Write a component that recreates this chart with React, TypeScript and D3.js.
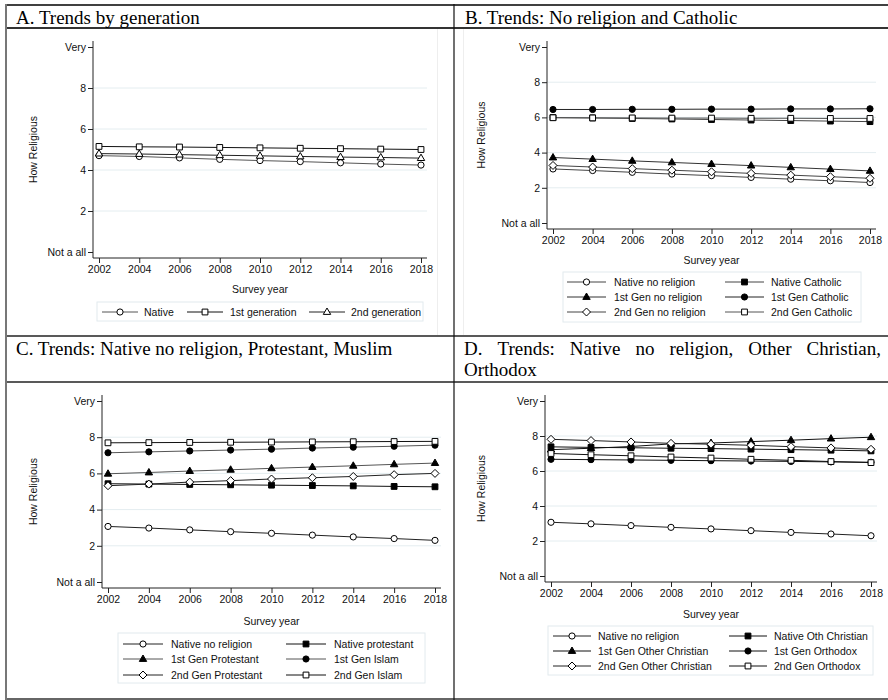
import * as d3 from "d3";
import { useRef, useEffect } from "react";

// survey years and y tick labels
const years = [2002, 2004, 2006, 2008, 2010, 2012, 2014, 2016, 2018];
const yTicks = [0, 2, 4, 6, 8, 10];
const yTickLabels = ["Not a all", "2", "4", "6", "8", "Very"];

// A. by generation
const aNative = [4.70, 4.66, 4.59, 4.52, 4.46, 4.41, 4.35, 4.29, 4.24];
const aFirst = [5.15, 5.13, 5.12, 5.10, 5.08, 5.06, 5.04, 5.02, 5.00];
const aSecond = [4.80, 4.78, 4.75, 4.72, 4.69, 4.66, 4.63, 4.61, 4.58];

// native no religion, same in B, C, D
const nativeNoRel = [3.07, 2.98, 2.88, 2.78, 2.69, 2.59, 2.49, 2.40, 2.30];

// B. no religion and catholic
const bNativeCath = [5.99, 5.97, 5.94, 5.91, 5.88, 5.85, 5.82, 5.79, 5.76];
const bFirstNoRel = [3.72, 3.63, 3.53, 3.44, 3.35, 3.26, 3.16, 3.06, 2.96];
const bFirstCath = [6.45, 6.45, 6.46, 6.46, 6.47, 6.47, 6.48, 6.48, 6.49];
const bSecondNoRel = [3.27, 3.18, 3.09, 3.00, 2.91, 2.82, 2.72, 2.63, 2.54];
const bSecondCath = [5.98, 5.97, 5.97, 5.96, 5.96, 5.95, 5.95, 5.94, 5.94];

// C. protestant, muslim
const cNativeProt = [5.43, 5.41, 5.39, 5.37, 5.35, 5.33, 5.31, 5.28, 5.26];
const cFirstProt = [5.98, 6.05, 6.13, 6.20, 6.28, 6.35, 6.42, 6.50, 6.57];
const cFirstIslam = [7.14, 7.19, 7.24, 7.29, 7.34, 7.40, 7.45, 7.50, 7.56];
const cSecondProt = [5.32, 5.41, 5.52, 5.60, 5.69, 5.76, 5.83, 5.93, 6.00];
const cSecondIslam = [7.69, 7.70, 7.71, 7.72, 7.73, 7.74, 7.75, 7.76, 7.77];

// D. other christian, orthodox
const dNativeOth = [7.38, 7.35, 7.33, 7.30, 7.28, 7.25, 7.22, 7.19, 7.15];
const dFirstOth = [7.22, 7.30, 7.40, 7.55, 7.60, 7.68, 7.76, 7.85, 7.93];
const dFirstOrth = [6.67, 6.65, 6.63, 6.61, 6.59, 6.57, 6.55, 6.52, 6.50];
const dSecondOth = [7.81, 7.74, 7.66, 7.58, 7.53, 7.47, 7.39, 7.32, 7.24];
const dSecondOrth = [7.00, 6.93, 6.87, 6.80, 6.74, 6.67, 6.61, 6.54, 6.48];

const SANS = "'Liberation Sans', Arial, sans-serif";
const SERIF = "'Liberation Serif', 'Times New Roman', serif";

const panels = [
    {
        x0: 99, x1: 421, y0: 252, y1: 47, ylabX: 33,
        tickY: 275, xlabY: 293,
        legend: { x: 97, y: 302, w: 326, h: 19, cols: [102, 187, 309], rows: [312], text: [144, 230, 351], lineW: 36 },
        series: [
            { name: "Native", values: aNative, shape: "circle", fill: false, color: "#555" },
            { name: "1st generation", values: aFirst, shape: "square", fill: false, color: "#111" },
            { name: "2nd generation", values: aSecond, shape: "triangle", fill: false, color: "#222" },
        ],
    },
    {
        x0: 553, x1: 870, y0: 223, y1: 47, ylabX: 481,
        tickY: 245, xlabY: 264,
        legend: { x: 563, y: 272, w: 298, h: 50, cols: [567, 725], rows: [282, 297, 312], text: [614, 771], lineW: 39 },
        series: [
            { name: "Native no religion", values: nativeNoRel, shape: "circle", fill: false, color: "#444" },
            { name: "Native Catholic", values: bNativeCath, shape: "square", fill: true, color: "#444" },
            { name: "1st Gen no religion", values: bFirstNoRel, shape: "triangle", fill: true, color: "#333" },
            { name: "1st Gen Catholic", values: bFirstCath, shape: "circle", fill: true, color: "#222" },
            { name: "2nd Gen no religion", values: bSecondNoRel, shape: "diamond", fill: false, color: "#444" },
            { name: "2nd Gen Catholic", values: bSecondCath, shape: "square", fill: false, color: "#555" },
        ],
    },
    {
        x0: 108, x1: 435, y0: 582, y1: 401, ylabX: 33,
        tickY: 606, xlabY: 625,
        legend: { x: 118, y: 633, w: 307, h: 50, cols: [123, 286], rows: [644, 659, 675], text: [171, 334], lineW: 40 },
        series: [
            { name: "Native no religion", values: nativeNoRel, shape: "circle", fill: false, color: "#222" },
            { name: "Native protestant", values: cNativeProt, shape: "square", fill: true, color: "#111" },
            { name: "1st Gen Protestant", values: cFirstProt, shape: "triangle", fill: true, color: "#555" },
            { name: "1st Gen Islam", values: cFirstIslam, shape: "circle", fill: true, color: "#555" },
            { name: "2nd Gen Protestant", values: cSecondProt, shape: "diamond", fill: false, color: "#222" },
            { name: "2nd Gen Islam", values: cSecondIslam, shape: "square", fill: false, color: "#111" },
        ],
    },
    {
        x0: 551, x1: 871, y0: 576, y1: 401, ylabX: 481,
        tickY: 599, xlabY: 618,
        legend: { x: 548, y: 626, w: 325, h: 49, cols: [553, 729], rows: [636, 651, 666], text: [598, 774], lineW: 38 },
        series: [
            { name: "Native no religion", values: nativeNoRel, shape: "circle", fill: false, color: "#222" },
            { name: "Native Oth Christian", values: dNativeOth, shape: "square", fill: true, color: "#111" },
            { name: "1st Gen Other Christian", values: dFirstOth, shape: "triangle", fill: true, color: "#111" },
            { name: "1st Gen Orthodox", values: dFirstOrth, shape: "circle", fill: true, color: "#111" },
            { name: "2nd Gen Other Christian", values: dSecondOth, shape: "diamond", fill: false, color: "#222" },
            { name: "2nd Gen Orthodox", values: dSecondOrth, shape: "square", fill: false, color: "#111" },
        ],
    },
];

// marker paths centred on 0,0
const markerPath = (shape) => {
    if (shape === "circle") return d3.symbol(d3.symbolCircle, Math.PI * 3.1 * 3.1)();
    if (shape === "square") return "M-2.9,-2.9H2.9V2.9H-2.9Z";
    if (shape === "triangle") return "M0,-4L3.7,2.4H-3.7Z";
    return "M0,-4L4,0L0,4L-4,0Z";
};

const drawMarker = (g, s, cx, cy) => {
    g.append("path")
        .attr("d", markerPath(s.shape))
        .attr("transform", `translate(${cx},${cy})`)
        .attr("fill", s.fill ? "#000" : "#fff")
        .attr("stroke", "#000")
        .attr("stroke-width", 1);
};

const drawPanel = (svg, p) => {
    const x = d3.scaleLinear().domain([2002, 2018]).range([p.x0, p.x1]);
    const y = d3.scaleLinear().domain([0, 10]).range([p.y0, p.y1]);
    const left = p.x0 - 6, right = p.x1 + 6, top = p.y1 - 6, bottom = p.y0 + 6;
    const g = svg.append("g");

    // grid lines
    g.selectAll(".grid")
        .data([2, 4, 6, 8])
        .join("line")
        .attr("x1", left).attr("x2", right)
        .attr("y1", d => y(d)).attr("y2", d => y(d))
        .attr("stroke", "#e4edf0");

    // axes
    const ya = g.append("g")
        .attr("transform", `translate(${left},0)`)
        .call(d3.axisLeft(y).tickValues(yTicks).tickFormat((d, i) => yTickLabels[i]).tickSize(5).tickSizeOuter(0).tickPadding(2));
    const xa = g.append("g")
        .attr("transform", `translate(0,${bottom})`)
        .call(d3.axisBottom(x).tickValues(years).tickFormat(d3.format("d")).tickSize(5).tickSizeOuter(0).tickPadding(3));
    [ya, xa].forEach(a => {
        a.select(".domain").remove();
        a.attr("font-family", SANS).attr("font-size", 10.5);
        a.selectAll("line").attr("stroke", "#222");
        a.selectAll("text").attr("fill", "#111");
    });
    g.append("line").attr("x1", left).attr("x2", left).attr("y1", top).attr("y2", bottom).attr("stroke", "#222");
    g.append("line").attr("x1", left).attr("x2", right).attr("y1", bottom).attr("y2", bottom).attr("stroke", "#222");

    // axis titles
    g.append("text")
        .attr("transform", `translate(${p.ylabX},${(top + bottom) / 2}) rotate(-90)`)
        .attr("text-anchor", "middle").attr("dy", "0.35em")
        .attr("font-family", SANS).attr("font-size", 10.5).attr("fill", "#111")
        .text("How Religious");
    g.append("text")
        .attr("x", (p.x0 + p.x1) / 2).attr("y", p.xlabY)
        .attr("text-anchor", "middle")
        .attr("font-family", SANS).attr("font-size", 10.5).attr("fill", "#111")
        .text("Survey year");

    // series
    const line = d3.line().x((d, i) => x(years[i])).y(d => y(d));
    p.series.forEach(s => {
        g.append("path").attr("d", line(s.values)).attr("fill", "none").attr("stroke", s.color).attr("stroke-width", 1);
    });
    p.series.forEach(s => {
        s.values.forEach((v, i) => drawMarker(g, s, x(years[i]), y(v)));
    });

    // legend
    const L = p.legend;
    g.append("rect").attr("x", L.x).attr("y", L.y).attr("width", L.w).attr("height", L.h)
        .attr("fill", "#fff").attr("stroke", "#e2eaee");
    const nc = L.cols.length;
    p.series.forEach((s, i) => {
        const c = i % nc, r = Math.floor(i / nc);
        const lx = L.cols[c], ly = L.rows[r];
        g.append("line").attr("x1", lx).attr("x2", lx + L.lineW).attr("y1", ly).attr("y2", ly)
            .attr("stroke", s.color).attr("stroke-width", 1);
        drawMarker(g, s, lx + L.lineW / 2, ly);
        g.append("text").attr("x", L.text[c]).attr("y", ly).attr("dy", "0.35em")
            .attr("font-family", SANS).attr("font-size", 10.5).attr("fill", "#111")
            .text(s.name);
    });
};

// spread words so that the line fills [x0, x1]
const justify = (svg, words, x0, x1, yy) => {
    const t = svg.selectAll(".jw").data(words).join("text")
        .attr("class", "jw")
        .attr("y", yy)
        .attr("font-family", SERIF).attr("font-size", 19).attr("fill", "#000")
        .text(d => d);
    const widths = t.nodes().map(n => n.getComputedTextLength());
    const gap = (x1 - x0 - d3.sum(widths)) / (words.length - 1);
    let cur = x0;
    t.attr("x", (d, i) => {
        const pos = cur;
        cur += widths[i] + gap;
        return pos;
    });
};

const Chart = () => {
    const ref = useRef(null);

    useEffect(() => {
        const svg = d3.select(ref.current);
        svg.selectAll("*").remove();

        // table frame
        const frame = svg.append("g");
        const h = (yy, c, w) => frame.append("line").attr("x1", 6).attr("x2", 888).attr("y1", yy).attr("y2", yy).attr("stroke", c).attr("stroke-width", w);
        h(5, "#000", 1.5);
        h(28, "#333", 2);
        h(336, "#222", 1.5);
        h(382, "#222", 1.5);
        h(699, "#666", 2);
        frame.append("line").attr("x1", 6).attr("x2", 6).attr("y1", 4).attr("y2", 700).attr("stroke", "#777").attr("stroke-width", 2);
        frame.append("line").attr("x1", 454).attr("x2", 454).attr("y1", 4).attr("y2", 700).attr("stroke", "#111").attr("stroke-width", 1.2);
        frame.append("line").attr("x1", 437.5).attr("x2", 437.5).attr("y1", 29).attr("y2", 335).attr("stroke", "#eee");
        frame.append("line").attr("x1", 463.5).attr("x2", 463.5).attr("y1", 29).attr("y2", 335).attr("stroke", "#eee");

        // panel titles
        const title = (tx, ty, s) => svg.append("text").attr("x", tx).attr("y", ty)
            .attr("font-family", SERIF).attr("font-size", 19).attr("fill", "#000").text(s);
        title(16, 24, "A. Trends by generation");
        title(465, 24, "B. Trends: No religion and Catholic");
        title(16, 355, "C. Trends: Native no religion, Protestant, Muslim");
        justify(svg, ["D.", "Trends:", "Native", "no", "religion,", "Other", "Christian,"], 464, 881, 355);
        title(464, 376, "Orthodox");

        panels.forEach(p => drawPanel(svg, p));
    }, []);

    return (
        <svg ref={ref} width={888} height={700}
            style={{ position: "absolute", left: 0, top: 0, background: "#fff" }} />
    );
};

export default function App() {
    return <Chart />;
}
